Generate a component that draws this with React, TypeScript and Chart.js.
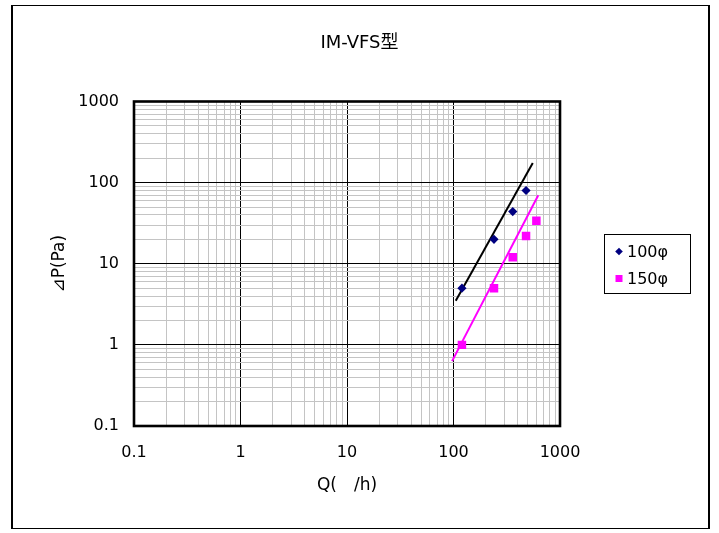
import React, { useEffect, useRef } from "react";
import { Chart, registerables } from "chart.js";

Chart.register(...registerables);

// ---- data ----
const SERIES_LABELS = ["100φ", "150φ"];
const Q_100 = [120, 240, 360, 480];
const DP_100 = [5, 20, 44, 80];
const Q_150 = [120, 240, 360, 480, 600];
const DP_150 = [1, 5, 12, 22, 34];
// trend (power) lines, endpoints
const TREND_100_Q = [105, 555];
const TREND_100_DP = [3.5, 175];
const TREND_150_Q = [97, 625];
const TREND_150_DP = [0.63, 70];
// axis tick labels (decades)
const X_TICK_LABELS = ["0.1", "1", "10", "100", "1000"];
const Y_TICK_LABELS = ["0.1", "1", "10", "100", "1000"];
const TITLE = "IM-VFS型";
const X_TITLE = "Q(\u3000/h)";
const Y_TITLE = "⊿P(Pa)";

const SANS = '"DejaVu Sans", "Noto Sans CJK JP", sans-serif';
const JP = '"DejaVu Sans", "Noto Sans CJK JP", sans-serif';

function buildLogTicks(labels: string[]) {
  const majors = labels.map(Number);
  const out: { value: number; major: boolean }[] = [];
  for (let i = 0; i < majors.length; i++) {
    const m = majors[i];
    out.push({ value: m, major: true });
    if (i < majors.length - 1) {
      for (let k = 2; k <= 9; k++) {
        out.push({ value: Number((m * k).toPrecision(6)), major: false });
      }
    }
  }
  return out;
}

function isMajor(labels: string[], v: number) {
  return labels.some((l) => Math.abs(Number(l) - v) < 1e-9 * Math.max(1, v));
}

function labelFor(labels: string[], v: number) {
  const l = labels.find((s) => Math.abs(Number(s) - v) < 1e-9 * Math.max(1, v));
  return l === undefined ? "" : l;
}

const frameAndLegend = {
  id: "frameAndLegend",
  beforeDraw(chart: any) {
    const ctx = chart.ctx;
    ctx.save();
    ctx.fillStyle = "#ffffff";
    ctx.fillRect(0, 0, chart.width, chart.height);
    ctx.restore();
  },
  afterDraw(chart: any) {
    const ctx = chart.ctx;
    const ca = chart.chartArea;
    ctx.save();
    // outer chart frame
    ctx.strokeStyle = "#000";
    ctx.lineWidth = 1;
    ctx.strokeRect(12.5, 5.5, 697, 523);
    ctx.lineWidth = 2;
    ctx.beginPath();
    ctx.moveTo(12, 5);
    ctx.lineTo(12, 529);
    ctx.moveTo(709, 5);
    ctx.lineTo(709, 529);
    ctx.stroke();
    // plot-area frame
    ctx.lineWidth = 2.6;
    ctx.strokeRect(ca.left, ca.top, ca.right - ca.left, ca.bottom - ca.top);

    // legend
    const cy = (ca.top + ca.bottom) / 2;
    const x0 = ca.right + 44;
    const y0 = Math.round(cy - 29.5) + 0.5;
    const w = 86;
    const h = 59;
    ctx.lineWidth = 1;
    ctx.strokeStyle = "#000";
    ctx.strokeRect(x0 + 0.5, y0, w, h);
    const rows = [y0 + 17, y0 + 44];
    ctx.font = "16px " + SANS;
    ctx.textBaseline = "middle";
    ctx.textAlign = "left";
    chart.data.datasets.slice(0, 2).forEach((ds: any, i: number) => {
      const mx = x0 + 15;
      const my = rows[i];
      ctx.fillStyle = ds.backgroundColor;
      ctx.beginPath();
      if (ds.pointStyle === "rectRot") {
        const r = 3.8;
        ctx.moveTo(mx, my - r);
        ctx.lineTo(mx + r, my);
        ctx.lineTo(mx, my + r);
        ctx.lineTo(mx - r, my);
        ctx.closePath();
      } else {
        ctx.rect(mx - 3.5, my - 3.5, 7, 7);
      }
      ctx.fill();
      ctx.fillStyle = "#000";
      ctx.fillText(ds.label, x0 + 23, my + 1);
    });
    ctx.restore();
  },
};

export default function App() {
  const ref = useRef<HTMLCanvasElement | null>(null);

  useEffect(() => {
    if (!ref.current) return;
    const xTicks = buildLogTicks(X_TICK_LABELS);
    const yTicks = buildLogTicks(Y_TICK_LABELS);
    const gridColor = (labels: string[]) => (c: any) =>
      c.tick && isMajor(labels, c.tick.value) ? "#000000" : "#c4c4c4";

    const chart = new Chart(ref.current, {
      type: "scatter",
      data: {
        datasets: [
          {
            label: SERIES_LABELS[0],
            data: Q_100.map((q, i) => ({ x: q, y: DP_100[i] })),
            pointStyle: "rectRot",
            pointRadius: 4.6,
            backgroundColor: "#000080",
            borderColor: "#000080",
            borderWidth: 0,
            showLine: false,
          },
          {
            label: SERIES_LABELS[1],
            data: Q_150.map((q, i) => ({ x: q, y: DP_150[i] })),
            pointStyle: "rect",
            pointRadius: 6,
            backgroundColor: "#FF00FF",
            borderColor: "#FF00FF",
            borderWidth: 0,
            showLine: false,
          },
          {
            label: "trend100",
            data: TREND_100_Q.map((q, i) => ({ x: q, y: TREND_100_DP[i] })),
            showLine: true,
            pointRadius: 0,
            borderColor: "#000000",
            backgroundColor: "#000000",
            borderWidth: 2,
          },
          {
            label: "trend150",
            data: TREND_150_Q.map((q, i) => ({ x: q, y: TREND_150_DP[i] })),
            showLine: true,
            pointRadius: 0,
            borderColor: "#FF00FF",
            backgroundColor: "#FF00FF",
            borderWidth: 2,
          },
        ],
      },
      options: {
        responsive: false,
        animation: false,
        events: [],
        layout: { padding: { left: 12, right: 12, top: 5, bottom: 5 } },
        plugins: {
          legend: { display: false },
          tooltip: { enabled: false },
          title: {
            display: true,
            text: TITLE,
            color: "#000",
            font: { family: JP, size: 18, weight: "normal", lineHeight: 1.25 },
            padding: { top: 27, bottom: 47 },
          },
        },
        scales: {
          x: {
            type: "logarithmic",
            position: "bottom",
            min: 0.1,
            max: 1000,
            afterBuildTicks: (s: any) => {
              s.ticks = xTicks.map((t) => ({ ...t }));
            },
            afterFit: (s: any) => {
              s.height = 102;
            },
            ticks: {
              autoSkip: false,
              maxRotation: 0,
              minRotation: 0,
              padding: 17,
              color: "#000",
              font: { family: SANS, size: 16, lineHeight: 1.25 },
              callback: (v: any) => labelFor(X_TICK_LABELS, Number(v)),
            },
            grid: { color: gridColor(X_TICK_LABELS), lineWidth: 1, drawTicks: false },
            border: { display: false },
            title: {
              display: true,
              text: X_TITLE,
              color: "#000",
              font: { family: SANS, size: 17, lineHeight: 1.25 },
              padding: { top: 0, bottom: 32 },
            },
          },
          y: {
            type: "logarithmic",
            position: "left",
            min: 0.1,
            max: 1000,
            afterBuildTicks: (s: any) => {
              s.ticks = yTicks.map((t) => ({ ...t }));
            },
            afterFit: (s: any) => {
              s.width = 122;
            },
            ticks: {
              autoSkip: false,
              padding: 15,
              color: "#000",
              font: { family: SANS, size: 16, lineHeight: 1.25 },
              callback: (v: any) => labelFor(Y_TICK_LABELS, Number(v)),
            },
            grid: { color: gridColor(Y_TICK_LABELS), lineWidth: 1, drawTicks: false },
            border: { display: false },
            title: {
              display: true,
              text: Y_TITLE,
              color: "#000",
              font: { family: SANS, size: 17, lineHeight: 1.25 },
              padding: { top: 37, bottom: 0 },
            },
          },
          y2: {
            type: "linear",
            position: "right",
            display: true,
            grid: { display: false, drawTicks: false },
            ticks: { display: false },
            border: { display: false },
            afterFit: (s: any) => {
              s.width = 147;
            },
          },
        },
      },
      plugins: [frameAndLegend],
    } as any);

    return () => chart.destroy();
  }, []);

  return (
    <div style={{ position: "fixed", left: 0, top: 0, width: 719, height: 533 }}>
      <canvas ref={ref} width={719} height={533} style={{ display: "block" }} />
    </div>
  );
}
